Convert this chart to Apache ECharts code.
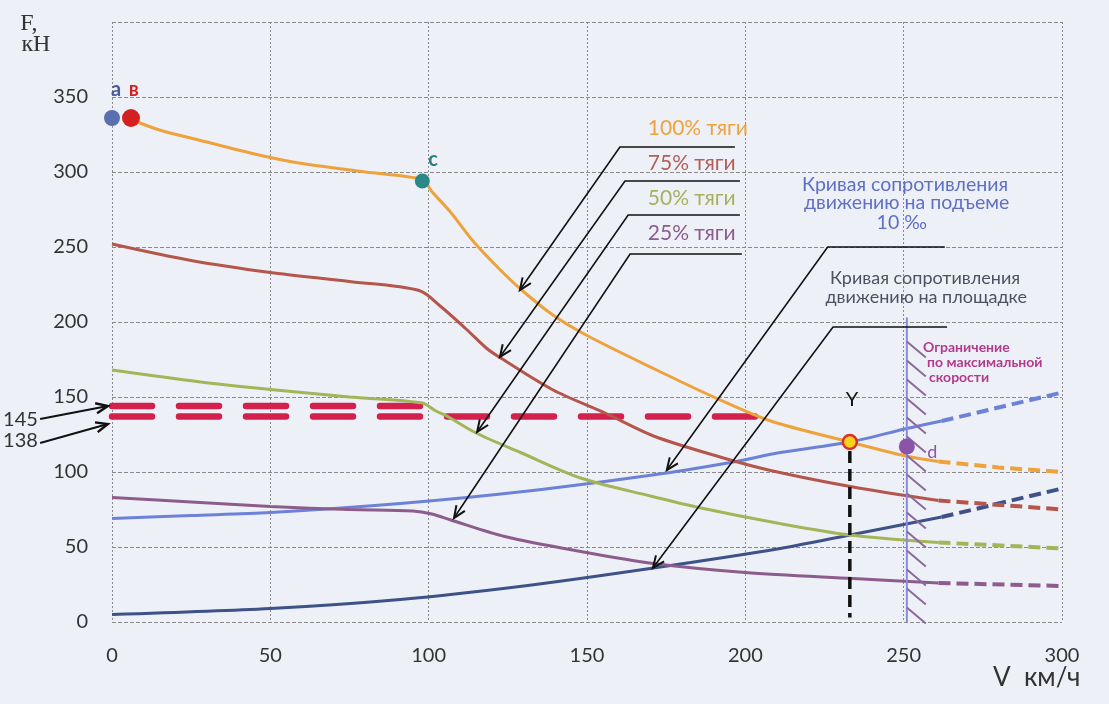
<!DOCTYPE html>
<html><head><meta charset="utf-8">
<script src="https://cdn.jsdelivr.net/npm/echarts@6/dist/echarts.min.js"></script>
<style>html,body{margin:0;padding:0;background:#eef0f7}#c{width:1109px;height:704px}</style>
</head><body><div id="c"></div>
<script>
// ---- axis ticks ----
const xTicks = [0, 50, 100, 150, 200, 250, 300];
const yTicks = [0, 50, 100, 150, 200, 250, 300, 350];

// ---- traction curves (V km/h, F kN) ----
const traction100 = [[6,335],[15,328],[28,321],[45,312],[59,306],[80,300],[98,295],[101,287],[107,273],[114,254],[122,236],[129,222],[139,205],[150,191],[171,169],[190,150],[208,134],[233,120],[250,111],[261,107]];
const traction100Ext = [[261,107],[280,103],[300,100]];
const traction75 = [[0,252],[25,241],[50,233],[75,227],[97,221],[104,210],[112,195],[118,183],[122,177],[139,155],[156,139],[171,124],[192,110],[208,101],[234,90],[261,81]];
const traction75Ext = [[261,81],[300,75]];
const traction50 = [[0,168],[28,160],[50,155],[75,150],[98,146],[102,141],[106,137],[115,126],[129,113],[148,96],[170,84],[186,76],[210,66],[233,58],[261,53]];
const traction50Ext = [[261,53],[300,49]];
const traction25 = [[0,83],[25,80],[50,77],[75,75],[95,74],[101,72],[107,68],[124,57],[148,47],[171,39],[200,33],[234,29],[261,26]];
const traction25Ext = [[261,26],[300,24]];

// ---- resistance curves ----
const resistUphill = [[0,69],[25,71],[50,73],[91,79],[130,87],[174,99],[197,107],[211,113],[233,120],[251,129],[262,134]];
const resistUphillExt = [[262,134],[300,153]];
const resistFlat = [[0,5],[50,9],[91,15],[130,24],[171,36],[211,49],[233,58],[262,70]];
const resistFlatExt = [[262,70],[300,89]];

// ---- adhesion limits (kN) ----
const limit145 = [[0,144],[99,144]];
const limit138 = [[0,137],[204,137]];
const limitLabels = ['145', '138'];

// ---- key points ----
const pointA = [0, 336];
const pointB = [6, 336];
const pointC = [98, 294];
const pointY = [233, 120];
const pointD = [251, 117];
const yLine = [[233,114],[233,3]];
const vMaxLine = [[251,203],[251,0]];

// ---- texts ----
const tractionLabels = ['100% тяги', '75% тяги', '50% тяги', '25% тяги'];
const uphillText = ['Кривая сопротивления', 'движению на подъеме', '10 ‰'];
const flatText = ['Кривая сопротивления', 'движению на площадке'];
const vmaxText = ['Ограничение', 'по максимальной', 'скорости'];

const C = {
  o: '#eea23c', br: '#b5564c', gr: '#a4b458', pu: '#8c5c8c',
  bl: '#6c82d8', nv: '#3e5288', red: '#d3204c'
};
const FONT = 'Lato, "Open Sans", sans-serif';

function solid(data, color, z) {
  return {type:'line', data, smooth:0.3, symbol:'none', z: z||3,
    lineStyle:{color, width:3}};
}
function dashed(data, color) {
  return {type:'line', data, smooth:false, symbol:'none', z:3,
    lineStyle:{color, width:4, type:[12,6]}};
}
function pt(data, color, size, border) {
  return {type:'scatter', data:[data], symbolSize:size, clip:false, z:6,
    itemStyle: Object.assign({color, opacity:1}, border||{})};
}

const chart = echarts.init(document.getElementById('c'), null, {renderer:'canvas'});
chart.setOption({
  backgroundColor:'#eef0f7',
  animation:false,
  grid:{left:112, right:47, top:22, bottom:82, containLabel:false},
  xAxis:{type:'value', min:0, max:300, interval:50,
    axisLine:{show:false}, axisTick:{show:false},
    axisLabel:{color:'#333', fontSize:20, fontFamily:FONT, margin:24,
      formatter:v => xTicks.includes(v) ? String(v) : ''},
    splitLine:{show:true, lineStyle:{color:'#8a8a8a', width:1, type:[2,2]}}},
  yAxis:{type:'value', min:0, max:400, interval:50,
    axisLine:{show:false}, axisTick:{show:false},
    axisLabel:{color:'#333', fontSize:20, fontFamily:FONT, margin:24,
      formatter:v => yTicks.includes(v) ? String(v) : ''},
    splitLine:{show:true, lineStyle:{color:'#8a8a8a', width:1, type:[4,2]}}},
  series:[
    {type:'line', data:limit145, symbol:'none', z:2, lineStyle:{color:C.red, width:6.5, type:[40,27], cap:'round'}},
    {type:'line', data:limit138, symbol:'none', z:2, lineStyle:{color:C.red, width:6.5, type:[40,27], cap:'round'}},
    solid(resistFlat, C.nv), dashed(resistFlatExt, C.nv),
    solid(resistUphill, C.bl), dashed(resistUphillExt, C.bl),
    solid(traction25, C.pu), dashed(traction25Ext, C.pu),
    solid(traction50, C.gr), dashed(traction50Ext, C.gr),
    solid(traction75, C.br), dashed(traction75Ext, C.br),
    solid(traction100, C.o, 4), dashed(traction100Ext, C.o),
    {type:'line', data:yLine, symbol:'none', z:4, lineStyle:{color:'#111', width:3.5, type:[12,6]}},
    {type:'line', data:vMaxLine, symbol:'none', z:4, lineStyle:{color:'#8a8ae0', width:2}},
    pt(pointA, '#5a6fb0', 16),
    pt(pointB, '#d42020', 18),
    pt(pointC, '#2a8888', 15),
    pt(pointY, '#f6d21e', 14, {borderColor:'#d8302a', borderWidth:2.5}),
    pt(pointD, '#8a55a8', 16)
  ]
});

// ---- annotations, positioned through the axes ----
const P = (x, y) => chart.convertToPixel({gridIndex:0}, [x, y]);
const g = [];
function text(str, x, y, style) {
  const p = P(x, y);
  g.push({type:'text', x:p[0], y:p[1], z:10,
    style:Object.assign({text:str, font:'20px ' + FONT, fill:'#333', textAlign:'left', textVerticalAlign:'middle'}, style||{})});
}
function arrow(pts, color, w) {
  const px = pts.map(q => P(q[0], q[1]));
  g.push({type:'polyline', z:9, shape:{points:px}, style:{stroke:color||'#111', lineWidth:w||1.6, fill:null}});
  const tip = px[px.length-1], from = px[px.length-2];
  const a = Math.atan2(tip[1]-from[1], tip[0]-from[0]);
  const L = 13, s = 0.4;
  g.push({type:'polyline', z:9, shape:{points:[
    [tip[0]-L*Math.cos(a-s), tip[1]-L*Math.sin(a-s)], tip,
    [tip[0]-L*Math.cos(a+s), tip[1]-L*Math.sin(a+s)]]},
    style:{stroke:color||'#111', lineWidth:(w||1.6)+0.4, fill:null}});
}

// traction labels and leaders
const tl = [[169.2,329.3,C.o],[169.2,306,'#b0605a'],[169.2,282.7,'#a8b060'],[169.2,259.3,C.pu]];
tractionLabels.forEach((t,i) => text(t, tl[i][0], tl[i][1], {fill:tl[i][2], font:'21px ' + FONT}));
arrow([[196.7,316.7],[160.4,316.7],[128.8,221.3]]);
arrow([[198.3,294],[162,294],[122.5,176.7]]);
arrow([[198.3,271.3],[163,271.3],[115.3,126.7]]);
arrow([[198.9,245.3],[163.6,245.3],[108,69.3]]);
// resistance labels
text(uphillText[0], 217.9, 291.3, {fill:'#5e6fc6', font:'19.5px ' + FONT});
text(uphillText[1], 218.5, 279.3, {fill:'#5e6fc6', font:'19.5px ' + FONT});
text(uphillText[2], 249.4, 266, {fill:'#5e6fc6', font:'19.5px ' + FONT, textAlign:'center'});
arrow([[263,250],[226,250],[175.2,101.3]]);
text(flatText[0], 226.7, 229.3, {fill:'#4c5260', font:'18px ' + FONT});
text(flatText[1], 225.3, 216.7, {fill:'#4c5260', font:'18px ' + FONT});
arrow([[263.7,196.7],[227.7,196.7],[170.8,36]]);
// max speed label
text(vmaxText[0], 256.1, 182.7, {fill:'#b03a8c', font:'bold 14px ' + FONT});
text(vmaxText[1], 257.4, 172.7, {fill:'#b03a8c', font:'bold 14px ' + FONT});
text(vmaxText[2], 258.0, 162.7, {fill:'#b03a8c', font:'bold 14px ' + FONT});
// hatching on the max-speed line
(function(){
  const top = P(vMaxLine[0][0], vMaxLine[0][1]), bot = P(vMaxLine[1][0], vMaxLine[1][1]);
  for (let y = top[1] + 24; y < bot[1] - 14; y += 19) {
    g.push({type:'line', z:5, shape:{x1:top[0], y1:y, x2:top[0]+19, y2:y+16},
      style:{stroke:'#8a6a9a', lineWidth:2}});
  }
})();
// point letters
text('а', 1.3, 354.7, {fill:'#4a5a9a', font:'bold 20px ' + FONT, textAlign:'center'});
text('в', 6.9, 354.7, {fill:'#d42020', font:'bold 20px ' + FONT, textAlign:'center'});
text('c', 101.4, 308, {fill:'#2a8080', font:'bold 20px ' + FONT, textAlign:'center'});
text('d', 259, 113.3, {fill:'#8a55a8', font:'18px ' + FONT, textAlign:'center'});
text('Y', 233.7, 148, {fill:'#111', font:'20px ' + FONT, textAlign:'center'});
// adhesion labels
text(limitLabels[0], -23.4, 134.7, {font:'20px ' + FONT, textAlign:'right'});
text(limitLabels[1], -23.4, 120.7, {font:'20px ' + FONT, textAlign:'right'});
arrow([[-22.7,135.3],[-1.3,144]], '#111', 2);
arrow([[-22.7,119.3],[-1.3,132]], '#111', 2);
// axis names
text('F,', -29, 399, {font:'24px "Liberation Serif", serif', fill:'#333'});
text('кН', -28.6, 384.7, {font:'24px "Liberation Serif", serif', fill:'#333'});
text('V  км/ч', 278.2, -37.3, {font:'26px ' + FONT, fill:'#333'});

chart.setOption({graphic:{elements:g}});
</script></body></html>
